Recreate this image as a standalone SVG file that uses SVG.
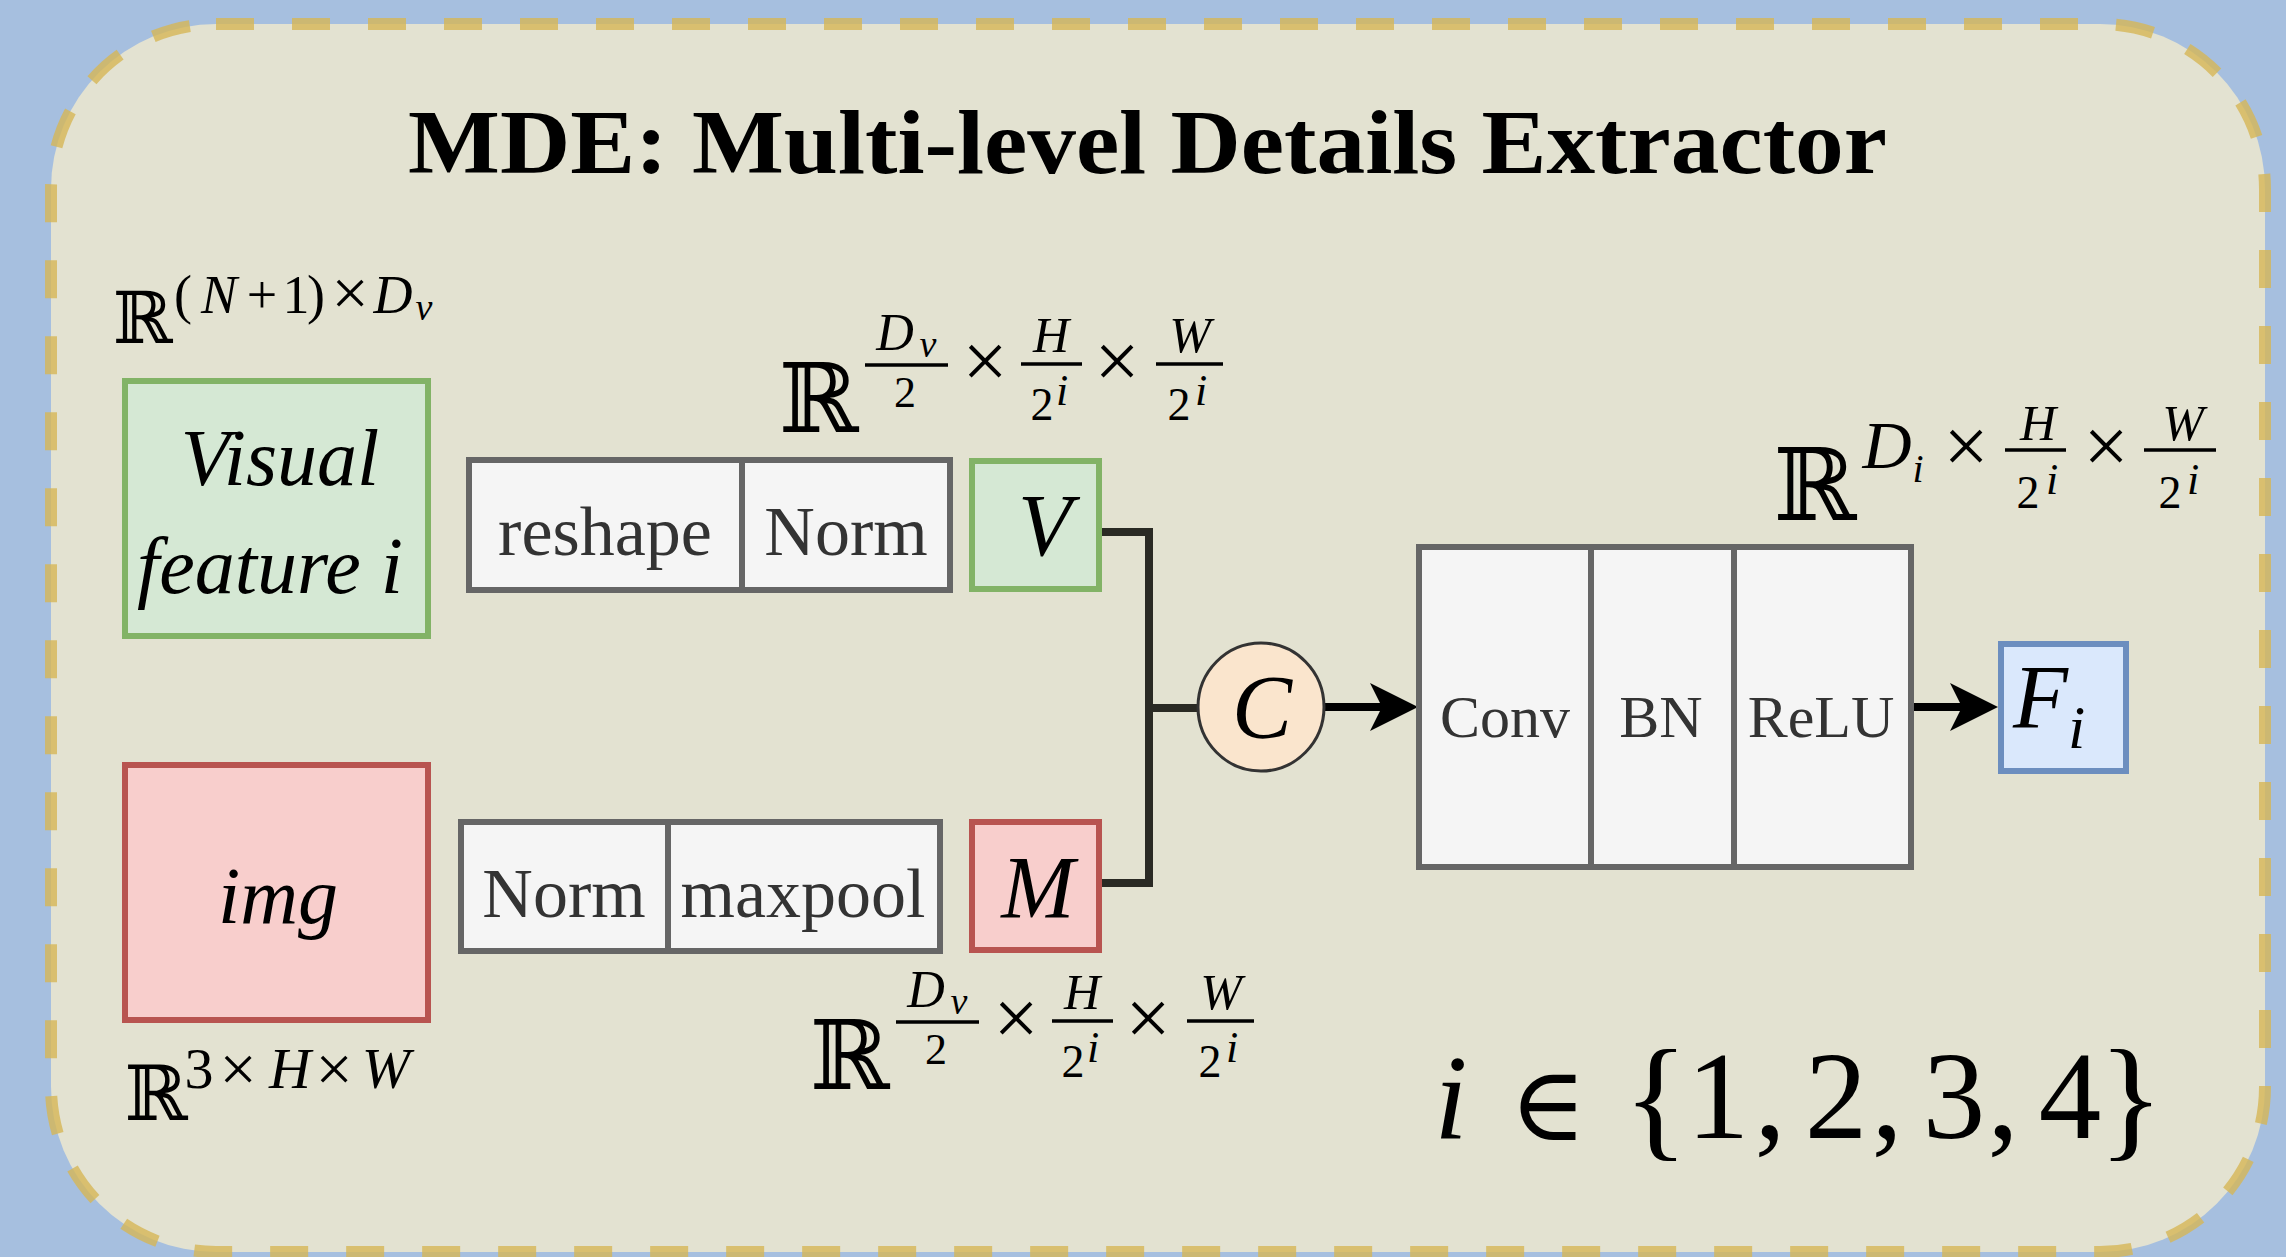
<svg xmlns="http://www.w3.org/2000/svg" width="2286" height="1257" viewBox="0 0 2286 1257">
  <style>
    .frame { fill: #e3e2d1; stroke: #d6b656; stroke-opacity: 0.8; stroke-width: 12; stroke-dasharray: 38 38; }
    .op { fill: #f5f5f5; stroke: #666666; stroke-width: 6; }
    .green { fill: #d5e8d4; stroke: #82b366; stroke-width: 6; }
    .red { fill: #f8cecc; stroke: #b85450; stroke-width: 6; }
    .blue { fill: #dae8fc; stroke: #6c8ebf; stroke-width: 6; }
    .concat { fill: #fae5cd; stroke: #333333; stroke-width: 3; }
    .lbl { font-family: "Liberation Serif", "Times New Roman", serif; fill: #333333; text-anchor: middle; }
    .it { font-family: "Liberation Serif", "Times New Roman", serif; font-style: italic; fill: #000000; text-anchor: middle; }
    .rm { font-family: "Liberation Serif", "Times New Roman", serif; fill: #000000; text-anchor: middle; }
    .bb { font-family: "DejaVu Serif", serif; fill: #000000; text-anchor: middle; }
    .bar { stroke: #000000; stroke-width: 3.5; }
    .wire { fill: none; stroke: #2a2a24; stroke-width: 8; }
    .arrow { fill: none; stroke: #000000; stroke-width: 8; }
    .head { fill: #000000; }
  </style>

  <!-- page background and dashed module frame -->
  <rect x="0" y="0" width="2286" height="1257" fill="#a6bfdf"/>
  <rect class="frame" x="51" y="24" width="2214" height="1228" rx="165" ry="165"/>

  <text x="408" y="173" font-family="Liberation Serif, Times New Roman, serif" font-weight="bold" font-size="90" textLength="1479" lengthAdjust="spacingAndGlyphs" fill="#000000">MDE: Multi-level Details Extractor</text>

  <!-- connectors -->
  <g id="connectors">
    <path class="wire" d="M1102,532 H1149 V883 H1102"/>
    <path class="wire" d="M1149,708 H1198"/>
    <path class="arrow" d="M1325,707 H1384"/>
    <polygon class="head" points="1418,707 1370,683 1382,707 1370,731"/>
    <path class="arrow" d="M1911,707 H1964"/>
    <polygon class="head" points="1998,707 1950,683 1962,707 1950,731"/>
  </g>

  <!-- input: visual feature -->
  <g id="visual-feature">
    <rect class="green" x="125" y="381" width="303" height="255"/>
    <text class="it" x="280" y="485" font-size="80">Visual</text>
    <text class="it" x="270" y="593" font-size="80">feature i</text>
  </g>

  <!-- input: image -->
  <g id="img">
    <rect class="red" x="125" y="765" width="303" height="255"/>
    <text class="it" x="278" y="923" font-size="80">img</text>
  </g>

  <!-- visual branch: reshape + Norm -->
  <g id="reshape-norm">
    <rect class="op" x="469" y="460" width="273" height="130"/>
    <rect class="op" x="742" y="460" width="208" height="130"/>
    <text class="lbl" x="605" y="555" font-size="70">reshape</text>
    <text class="lbl" x="846" y="555" font-size="70">Norm</text>
  </g>

  <!-- image branch: Norm + maxpool -->
  <g id="norm-maxpool">
    <rect class="op" x="461" y="822" width="207" height="129"/>
    <rect class="op" x="668" y="822" width="272" height="129"/>
    <text class="lbl" x="564" y="917" font-size="70">Norm</text>
    <text class="lbl" x="803" y="917" font-size="70">maxpool</text>
  </g>

  <g id="node-v">
    <rect class="green" x="972" y="461" width="127" height="128"/>
    <text class="it" x="1045" y="555" font-size="88">V</text>
  </g>

  <g id="node-m">
    <rect class="red" x="972" y="822" width="127" height="128"/>
    <text class="it" x="1038" y="917" font-size="88">M</text>
  </g>

  <g id="concat">
    <ellipse class="concat" cx="1261" cy="707" rx="63" ry="64"/>
    <text class="it" x="1262" y="738" font-size="90">C</text>
  </g>

  <!-- Conv / BN / ReLU block -->
  <g id="conv-bn-relu">
    <rect class="op" x="1419" y="547" width="172" height="320"/>
    <rect class="op" x="1591" y="547" width="143" height="320"/>
    <rect class="op" x="1734" y="547" width="177" height="320"/>
    <text class="lbl" x="1505" y="737" font-size="60">Conv</text>
    <text class="lbl" x="1661" y="737" font-size="60">BN</text>
    <text class="lbl" x="1821" y="737" font-size="60">ReLU</text>
  </g>

  <g id="output-f">
    <rect class="blue" x="2001" y="644" width="125" height="127"/>
    <text class="it" x="2013" y="728" font-size="90" style="text-anchor:start">F<tspan dy="20" font-size="62">i</tspan></text>
  </g>

  <!-- shape annotations -->
  <g id="dim-visual">
    <text class="bb" x="143" y="343" font-size="72">ℝ</text>
    <text class="rm" x="183" y="313" font-size="54">(</text>
    <text class="it" x="219" y="313" font-size="54">N</text>
    <text class="rm" x="262" y="313" font-size="54">+</text>
    <text class="rm" x="296" y="313" font-size="54">1</text>
    <text class="rm" x="316" y="313" font-size="54">)</text>
    <text class="rm" x="350" y="315" font-size="66">×</text>
    <text class="it" x="393" y="313" font-size="54">D</text>
    <text class="it" x="424" y="320" font-size="38">v</text>
  </g>

  <g id="dim-img">
    <text class="bb" x="156" y="1120" font-size="76">ℝ</text>
    <text class="rm" x="199" y="1088" font-size="58">3</text>
    <text class="rm" x="238" y="1091" font-size="66">×</text>
    <text class="it" x="290" y="1088" font-size="58">H</text>
    <text class="rm" x="334" y="1091" font-size="66">×</text>
    <text class="it" x="386" y="1088" font-size="58">W</text>
  </g>

  <g id="dim-v">
    <text class="bb" x="819" y="432" font-size="96">ℝ</text>
    <text class="it" x="895" y="350" font-size="52">D</text>
    <text class="it" x="928" y="357" font-size="38">v</text>
    <line class="bar" x1="865" y1="365" x2="948" y2="365"/>
    <text class="rm" x="905" y="407" font-size="44">2</text>
    <text class="rm" x="985" y="388" font-size="80">×</text>
    <text class="it" x="1051" y="352" font-size="50">H</text>
    <line class="bar" x1="1021" y1="364" x2="1082" y2="364"/>
    <text class="rm" x="1042" y="420" font-size="46">2</text>
    <text class="it" x="1062" y="405" font-size="44">i</text>
    <text class="rm" x="1117" y="388" font-size="80">×</text>
    <text class="it" x="1190" y="352" font-size="50">W</text>
    <line class="bar" x1="1156" y1="364" x2="1223" y2="364"/>
    <text class="rm" x="1179" y="420" font-size="46">2</text>
    <text class="it" x="1201" y="405" font-size="44">i</text>
  </g>

  <g id="dim-m" transform="translate(31,657)">
    <text class="bb" x="819" y="432" font-size="96">ℝ</text>
    <text class="it" x="895" y="350" font-size="52">D</text>
    <text class="it" x="928" y="357" font-size="38">v</text>
    <line class="bar" x1="865" y1="365" x2="948" y2="365"/>
    <text class="rm" x="905" y="407" font-size="44">2</text>
    <text class="rm" x="985" y="388" font-size="80">×</text>
    <text class="it" x="1051" y="352" font-size="50">H</text>
    <line class="bar" x1="1021" y1="364" x2="1082" y2="364"/>
    <text class="rm" x="1042" y="420" font-size="46">2</text>
    <text class="it" x="1062" y="405" font-size="44">i</text>
    <text class="rm" x="1117" y="388" font-size="80">×</text>
    <text class="it" x="1190" y="352" font-size="50">W</text>
    <line class="bar" x1="1156" y1="364" x2="1223" y2="364"/>
    <text class="rm" x="1179" y="420" font-size="46">2</text>
    <text class="it" x="1201" y="405" font-size="44">i</text>
  </g>

  <g id="dim-out">
    <text class="bb" x="1815" y="520" font-size="100">ℝ</text>
    <text class="it" x="1887" y="468" font-size="68">D</text>
    <text class="it" x="1918" y="482" font-size="40">i</text>
    <text class="rm" x="1966" y="473" font-size="80">×</text>
    <text class="it" x="2038" y="440" font-size="50">H</text>
    <line class="bar" x1="2005" y1="450" x2="2066" y2="450"/>
    <text class="rm" x="2028" y="508" font-size="46">2</text>
    <text class="it" x="2052" y="494" font-size="44">i</text>
    <text class="rm" x="2106" y="473" font-size="80">×</text>
    <text class="it" x="2183" y="440" font-size="50">W</text>
    <line class="bar" x1="2144" y1="450" x2="2216" y2="450"/>
    <text class="rm" x="2170" y="508" font-size="46">2</text>
    <text class="it" x="2193" y="494" font-size="44">i</text>
  </g>

  <g id="index-range">
    <text class="it" x="1451" y="1138" font-size="120">i</text>
    <text class="bb" x="1548" y="1140" font-size="104">∈</text>
    <text class="rm" x="1656" y="1143" font-size="135">{</text>
    <text class="rm" x="1718" y="1138" font-size="125">1</text>
    <text class="rm" x="1770" y="1138" font-size="125">,</text>
    <text class="rm" x="1836" y="1138" font-size="125">2</text>
    <text class="rm" x="1887" y="1138" font-size="125">,</text>
    <text class="rm" x="1954" y="1138" font-size="125">3</text>
    <text class="rm" x="2003" y="1138" font-size="125">,</text>
    <text class="rm" x="2070" y="1138" font-size="125">4</text>
    <text class="rm" x="2131" y="1143" font-size="135">}</text>
  </g>
</svg>
